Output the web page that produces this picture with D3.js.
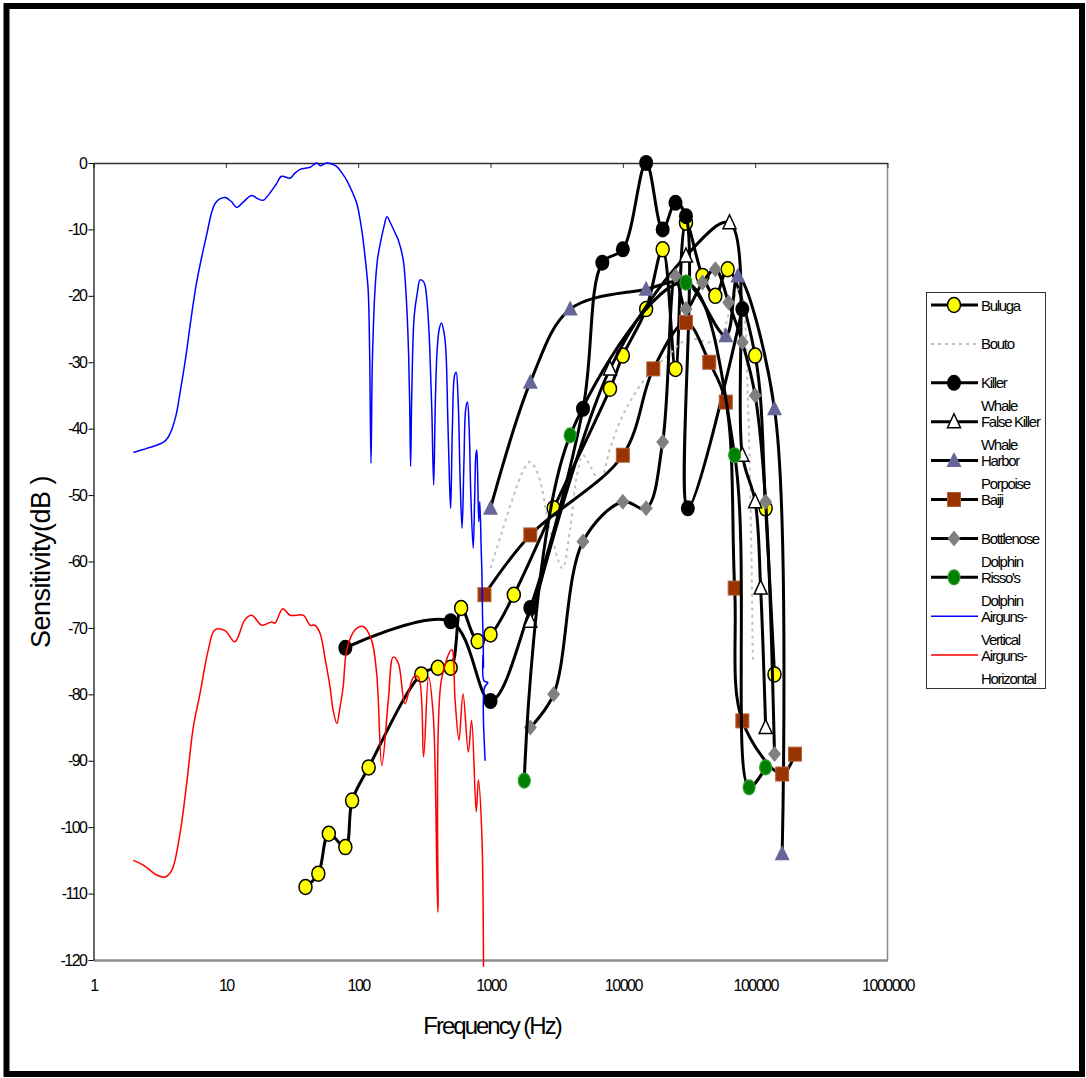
<!DOCTYPE html>
<meta charset="utf-8">
<style>
body { margin: 0; background: #fff; }
svg { display: block; font-family: "Liberation Sans", Arial, sans-serif; }
.tick text { font-size: 16px; letter-spacing: -1.5px; fill: #000; }
.legend text { font-size: 15px; letter-spacing: -1.3px; }
</style>
<svg width="1086" height="1078"></svg>
<script src="https://d3js.org/d3.v7.min.js"></script>
<script>

// ---- data (frequency in Hz, sensitivity in dB) ----
var xTicks = [1, 10, 100, 1000, 10000, 100000, 1000000];
var yTicks = d3.range(-120, 1, 10);

var bulugaF  = [40, 50, 60, 80, 90, 120, 300, 400, 500, 600, 800, 1000, 1500, 3000, 8000, 10000, 15000, 20000, 25000, 30000, 40000, 50000, 62000, 100000, 120000, 140000];
var bulugaDb = [-109, -107, -101, -103, -96, -91, -77, -76, -76, -67, -72, -71, -65, -52, -34, -29, -22, -13, -31, -9, -17, -20, -16, -29, -52, -77];

var boutoF  = [1000, 1200, 1500, 1800, 2000, 2300, 2800, 3500, 4000, 4500, 5000, 5800, 6700, 8000, 10000, 13000, 17000, 22000, 28000, 35000, 45000, 55000, 65000, 75000, 82000, 88000, 93000, 96000];
var boutoDb = [-61, -56, -50, -46, -45, -47, -55, -61, -55, -47, -44, -46, -48, -43, -38, -34, -31, -29, -27, -26.5, -27, -26, -22, -19, -22, -35, -55, -75];

var killerF  = [80, 500, 1000, 2000, 5000, 7000, 10000, 15000, 20000, 25000, 30000, 31000, 80000];
var killerDb = [-73, -69, -81, -67, -37, -15, -13, 0, -10, -6, -8, -52, -22];

var falseKillerF  = [2000, 8000, 30000, 64000, 80000, 100000, 110000, 120000];
var falseKillerDb = [-69, -31, -14, -9, -44, -51, -64, -85];

var porpoiseF  = [1000, 2000, 4000, 15000, 30000, 60000, 74000, 140000, 160000];
var porpoiseDb = [-52, -33, -22, -19, -18, -26, -17, -37, -104];

var baijiF  = [900, 2000, 10000, 17000, 30000, 45000, 60000, 70000, 80000, 160000, 200000];
var baijiDb = [-65, -56, -44, -31, -24, -30, -36, -64, -84, -92, -89];

var bottlenoseF  = [2000, 3000, 5000, 10000, 15000, 20000, 25000, 30000, 40000, 50000, 63000, 80000, 100000, 120000, 140000];
var bottlenoseDb = [-85, -80, -57, -51, -52, -42, -17, -22, -18, -16, -21, -27, -35, -51, -89];

var rissoF  = [1800, 4000, 30000, 70000, 90000, 120000];
var rissoDb = [-93, -41, -18, -44, -94, -91];

var vertF  = [2, 2.5, 3, 3.5, 3.8, 4.2, 4.5, 5, 5.4, 6, 6.6, 7.2, 7.8, 8.3, 9, 9.9, 11, 12.1, 13.5, 15.7, 17.5, 19.2, 21, 24, 26.4, 30.6, 33, 36.4, 43.3, 48.6, 52, 57.6, 64, 69, 76, 82, 90, 97.7, 104, 109, 114, 119, 122, 125, 128, 134, 140, 147, 157, 165, 175, 190, 201, 219, 232, 240, 245, 249, 254, 265, 280, 294, 310, 320, 335, 348, 360, 372, 383, 395, 410, 426, 445, 460, 475, 490, 500, 515, 535, 550, 570, 590, 610, 630, 650, 670, 690, 710, 740, 760, 775, 787, 800, 815, 830, 850, 862, 870, 880, 885, 878, 895, 955, 900, 910];
var vertDb = [-43.6, -43, -42.5, -41.8, -40.7, -38, -34.7, -29, -24.1, -18.1, -14, -10.6, -7.5, -6.1, -5.4, -5.2, -5.8, -6.7, -5.9, -4.9, -5.4, -5.6, -4.8, -3.2, -2, -2.3, -1.6, -0.95, -0.65, 0, -0.4, 0, -0.2, -0.55, -1.6, -2.6, -4.3, -6.1, -8.8, -11.6, -15, -19.1, -28, -45.2, -30, -19.1, -14.5, -12.1, -9.5, -8.1, -9, -10.5, -11.6, -14.6, -21, -28.2, -36, -45.7, -35, -23.1, -19.5, -17.6, -17.8, -18.4, -22, -28.2, -37, -48.5, -36, -28.2, -25, -24.1, -25.5, -28.2, -38, -48, -52, -40, -32, -31.5, -36, -48, -55, -45, -37, -36, -40, -50, -58, -50, -44, -43.2, -47, -54, -51, -58, -62, -68, -72, -76, -74, -78, -78.2, -79, -90];

var horF  = [2, 2.38, 3, 3.47, 3.9, 4.5, 5.06, 5.68, 6.38, 7.37, 8.27, 9.86, 11.7, 13.9, 15.7, 18.7, 22.2, 23.5, 26.9, 30.6, 38.6, 43.3, 47, 51.5, 56.2, 61.3, 64.7, 69, 72.7, 77, 82, 94.5, 109, 126, 138, 151, 169, 184, 201, 226, 262, 285, 312, 340, 370, 400, 425, 510, 540, 578, 620, 680, 720, 780, 810, 860, 885];
var horDb = [-105, -105.7, -107.2, -107.5, -106.5, -101, -93.4, -84.9, -79.9, -73.3, -70.3, -70.4, -72.1, -68.8, -68.1, -69.6, -69.1, -69.3, -67.1, -68.1, -68.1, -69.6, -69.6, -70.8, -74.6, -78.9, -82.4, -84.4, -82.1, -78.9, -73.3, -70.3, -69.8, -71.8, -76.9, -90.7, -80.9, -74.4, -75.3, -81.4, -77.4, -77.4, -89.4, -77.4, -83.4, -112.8, -77.9, -73.3, -80.9, -86.9, -79.9, -88.7, -83.9, -97.7, -92.9, -101, -121];

var names = ["Buluga", "Bouto", "Killer Whale", "False Killer Whale", "Harbor Porpoise", "Baiji", "Bottlenose Dolphin", "Risso's Dolphin", "Airguns- Vertical", "Airguns- Horizontal"];

// ---- layout ----
var svg = d3.select("svg");
var x = d3.scaleLog().domain([1, 1e6]).range([93.5, 887.5]);
var y = d3.scaleLinear().domain([-120, 0]).range([960, 163]);

function pairs(f, db) { return f.map(function(v, i) { return [v, db[i]]; }); }

var series = [
  {name: names[0], data: pairs(bulugaF, bulugaDb), line: "#000", width: 3, marker: "yellowCircle"},
  {name: names[1], data: pairs(boutoF, boutoDb), line: "#c0c0c0", width: 2, dash: "3,4", marker: null},
  {name: names[2], data: pairs(killerF, killerDb), line: "#000", width: 3, marker: "blackCircle"},
  {name: names[3], data: pairs(falseKillerF, falseKillerDb), line: "#000", width: 3, marker: "openTriangle"},
  {name: names[4], data: pairs(porpoiseF, porpoiseDb), line: "#000", width: 3, marker: "blueTriangle"},
  {name: names[5], data: pairs(baijiF, baijiDb), line: "#000", width: 3, marker: "brownSquare"},
  {name: names[6], data: pairs(bottlenoseF, bottlenoseDb), line: "#000", width: 3, marker: "grayDiamond"},
  {name: names[7], data: pairs(rissoF, rissoDb), line: "#000", width: 3, marker: "greenCircle"},
  {name: names[8], data: pairs(vertF, vertDb), line: "#0000ff", width: 1.5, marker: null},
  {name: names[9], data: pairs(horF, horDb), line: "#ff0000", width: 1.5, marker: null}
];

// outer frame
svg.append("rect")
  .attr("x", 6.5).attr("y", 6).attr("width", 1075.5).attr("height", 1068)
  .attr("fill", "none").attr("stroke", "#000").attr("stroke-width", 6);

// plot border (right + bottom are grey)
svg.append("line").attr("x1", x(1e6)).attr("x2", x(1e6)).attr("y1", y(0)).attr("y2", y(-120))
  .attr("stroke", "#8c8c8c").attr("stroke-width", 1.5);

var gx = svg.append("g")
  .attr("transform", "translate(0," + y(-120) + ")")
  .call(d3.axisBottom(x).tickValues(xTicks).tickFormat(d3.format("d")).tickSize(0).tickPadding(20));
gx.select(".domain").attr("stroke", "#8c8c8c").attr("stroke-width", 2.5);

var gTop = svg.append("g")
  .attr("transform", "translate(0," + y(0) + ")")
  .call(d3.axisTop(x).tickValues(xTicks).tickFormat("").tickSizeInner(-5).tickSizeOuter(0));
gTop.select(".domain").attr("stroke", "#333").attr("stroke-width", 1.5);
gTop.selectAll(".tick line").attr("stroke", "#333");

var gy = svg.append("g")
  .attr("transform", "translate(" + x(1) + ",0)")
  .call(d3.axisLeft(y).tickValues(yTicks).tickFormat(function(d) { return String(d); })
    .tickSize(5).tickSizeOuter(0).tickPadding(2));
gy.select(".domain").attr("stroke-width", 1.2);

svg.append("text")
  .attr("transform", "translate(50,562) rotate(-90)")
  .attr("text-anchor", "middle")
  .style("font-size", "27px").style("letter-spacing", "-0.5px")
  .text("Sensitivity(dB )");

svg.append("text")
  .attr("x", 492).attr("y", 1034)
  .attr("text-anchor", "middle")
  .style("font-size", "24px").style("letter-spacing", "-2px")
  .text("Frequency (Hz)");

// markers
function drawMarker(g, type, px, py) {
  switch (type) {
    case "yellowCircle":
      g.append("ellipse").attr("cx", px).attr("cy", py).attr("rx", 6.5).attr("ry", 7.5)
        .attr("fill", "#ffff00").attr("stroke", "#000").attr("stroke-width", 1.5);
      break;
    case "blackCircle":
      g.append("ellipse").attr("cx", px).attr("cy", py).attr("rx", 7).attr("ry", 8).attr("fill", "#000");
      break;
    case "openTriangle":
      g.append("path").attr("d", "M" + px + "," + (py - 8) + "L" + (px + 6.5) + "," + (py + 6) + "L" + (px - 6.5) + "," + (py + 6) + "Z")
        .attr("fill", "#fff").attr("stroke", "#000").attr("stroke-width", 1.5);
      break;
    case "blueTriangle":
      g.append("path").attr("d", "M" + px + "," + (py - 8.5) + "L" + (px + 7.5) + "," + (py + 6.5) + "L" + (px - 7.5) + "," + (py + 6.5) + "Z")
        .attr("fill", "#666699");
      break;
    case "brownSquare":
      g.append("rect").attr("x", px - 6.5).attr("y", py - 7).attr("width", 13).attr("height", 14)
        .attr("fill", "#993300").attr("stroke", "#b0603a").attr("stroke-width", 1);
      break;
    case "grayDiamond":
      g.append("path").attr("d", "M" + px + "," + (py - 8) + "L" + (px + 6.5) + "," + py + "L" + px + "," + (py + 8) + "L" + (px - 6.5) + "," + py + "Z")
        .attr("fill", "#808080");
      break;
    case "greenCircle":
      g.append("ellipse").attr("cx", px).attr("cy", py).attr("rx", 6).attr("ry", 7.5)
        .attr("fill", "#008000").attr("stroke", "#33a033").attr("stroke-width", 1.2);
      break;
  }
}

var smooth = d3.line().x(function(d) { return x(d[0]); }).y(function(d) { return y(d[1]); })
  .curve(d3.curveCatmullRom.alpha(0.5));

var plot = svg.append("g");
series.forEach(function(s) {
  var g = plot.append("g");
  g.append("path")
    .attr("d", smooth(s.data))
    .attr("fill", "none")
    .attr("stroke", s.line)
    .attr("stroke-width", s.width)
    .attr("stroke-dasharray", s.dash || null)
    .attr("stroke-linejoin", "round");
  if (s.marker) {
    s.data.forEach(function(d) { drawMarker(g, s.marker, x(d[0]), y(d[1])); });
  }
});

// legend
var lg = svg.append("g").attr("class", "legend");
lg.append("rect").attr("x", 926.5).attr("y", 292.5).attr("width", 119).attr("height", 396)
  .attr("fill", "#fff").attr("stroke", "#333").attr("stroke-width", 1);
series.forEach(function(s, i) {
  var cy = 305 + i * 38.9;
  lg.append("line").attr("x1", 931).attr("x2", 978).attr("y1", cy).attr("y2", cy)
    .attr("stroke", s.line).attr("stroke-width", s.width)
    .attr("stroke-dasharray", s.dash || null);
  if (s.marker) drawMarker(lg, s.marker, 954, cy);
  var words = s.name.split(" ");
  var first = words.length > 2 ? words.slice(0, 2).join(" ") : words[0];
  var rest = words.length > 2 ? words.slice(2).join(" ") : words.slice(1).join(" ");
  var t = lg.append("text").attr("x", 981).attr("y", cy + 5.5);
  t.append("tspan").attr("x", 981).text(first);
  if (rest) t.append("tspan").attr("x", 981).attr("dy", 23).text(rest);
});

</script>
